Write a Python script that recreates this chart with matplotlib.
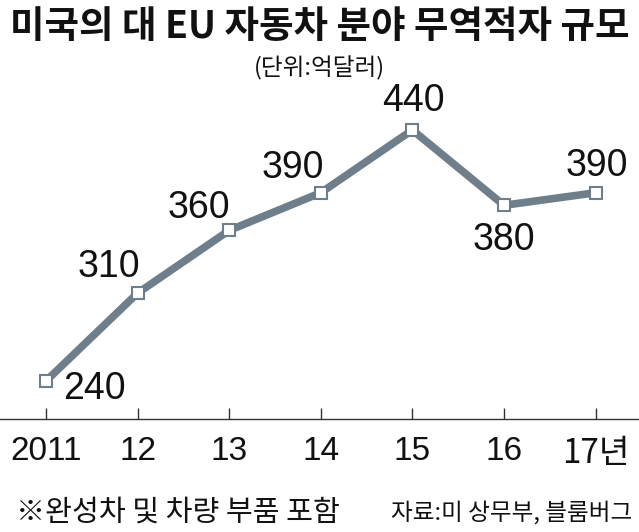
import matplotlib
matplotlib.use("Agg")
import matplotlib.pyplot as plt

plt.rcParams['font.family'] = ['Noto Sans CJK KR', 'DejaVu Sans']

years = ['2011', '12', '13', '14', '15', '16', '17년']
deficit = [240, 310, 360, 390, 440, 380, 390]
# label offsets in points (dx, dy) relative to each point
label_pos = [(35, -6), (-21, 19), (-22, 16), (-20, 18), (1, 21), (0, -25), (1, 19)]

line_color = '#6e7f8b'
num_font = ['Liberation Sans Narrow', 'Liberation Sans', 'DejaVu Sans']

fig = plt.figure(figsize=(6.39, 5.32), dpi=100)
ax = fig.add_axes([0, 0.2124, 1, 0.5996])

x = list(range(len(years)))
ax.plot(x, deficit, color=line_color, lw=5.5, solid_joinstyle='miter', zorder=2)
ax.plot(x, deficit, ls='none', marker='s', ms=8.5, mfc='white', mec=line_color,
        mew=1.5, zorder=3)

for i, v in enumerate(deficit):
    dx, dy = label_pos[i]
    ax.annotate(str(v), (i, v), xytext=(dx, dy), textcoords='offset points',
                ha='center', va='center', fontsize=27, family=num_font,
                color='#111111')

ax.set_xlim(-0.502, 6.474)
ax.set_ylim(209.7, 463.9)
for s in ['top', 'left', 'right']:
    ax.spines[s].set_visible(False)
ax.spines['bottom'].set_color('#333333')
ax.spines['bottom'].set_linewidth(1.0)
ax.set_yticks([])
ax.set_xticks(x)
ax.set_xticklabels([])
ax.tick_params(axis='x', direction='in', length=8, width=1.0, color='#333333')

for i, lab in enumerate(years):
    ax.text(i, -0.052, lab, transform=ax.get_xaxis_transform(), ha='center',
            va='top', fontsize=24, family=num_font if i < 6 else None,
            color='#111111')

fig.text(0.5, 0.95, '미국의 대 EU 자동차 분야 무역적자 규모', ha='center', va='center',
         fontsize=27, fontweight='bold', color='#111111')
fig.text(0.5, 0.872, '(단위:억달러)', ha='center', va='center', fontsize=17,
         color='#111111')
fig.text(0.025, 0.036, '※완성차 및 차량 부품 포함', ha='left', va='center',
         fontsize=21, color='#111111')
fig.text(0.99, 0.036, '자료:미 상무부, 블룸버그', ha='right', va='center',
         fontsize=17, color='#111111')

fig.savefig('out.png', dpi=100, facecolor='white')
